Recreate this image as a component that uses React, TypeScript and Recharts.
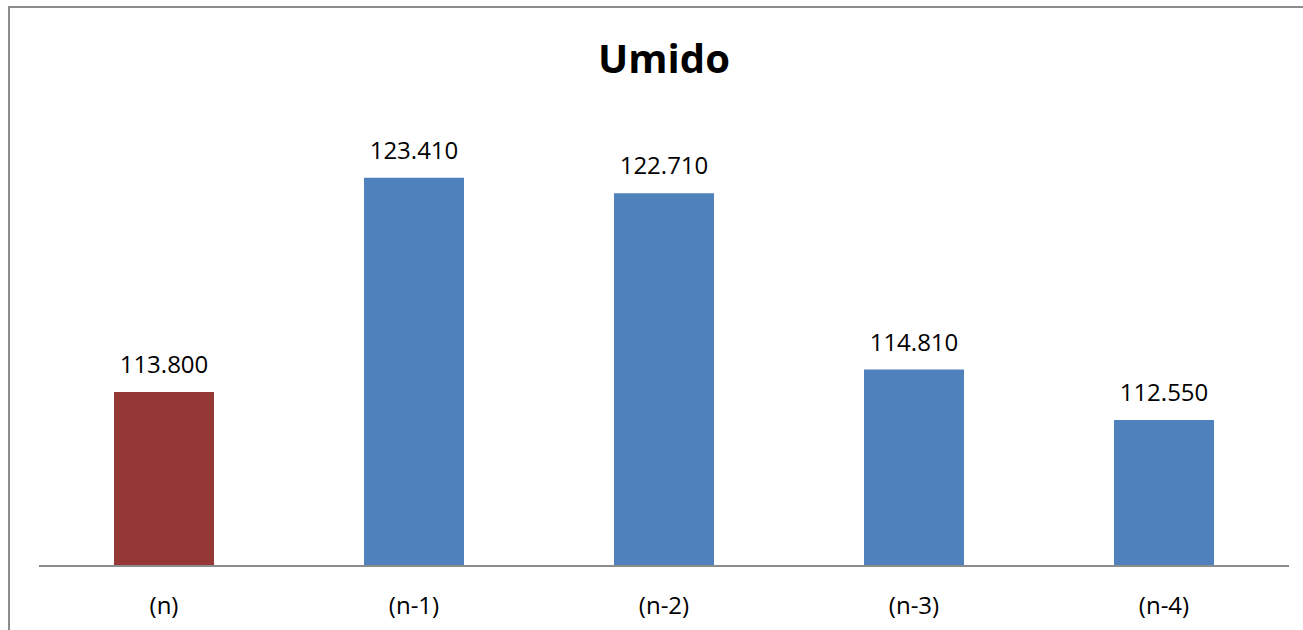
import { BarChart, Bar, XAxis, YAxis, Cell, LabelList } from "recharts";

const categories = ["(n)", "(n-1)", "(n-2)", "(n-3)", "(n-4)"];
const values = [113800, 123410, 122710, 114810, 112550];
const barColors = ["#953735", "#4F81BD", "#4F81BD", "#4F81BD", "#4F81BD"];
const yDomain = [106000, 126000];

const data = categories.map((name, i) => ({ name, value: values[i] }));

const FONT = "'Open Sans', sans-serif";

const fmt = (v: number) => String(v).replace(/\B(?=(\d{3})+(?!\d))/g, ".");

function ValueLabel(props: any) {
  const { x, y, width, value } = props;
  return (
    <text x={x + width / 2} y={y - 19} textAnchor="middle" fontSize={24} fontFamily={FONT} fill="#000">
      {fmt(value)}
    </text>
  );
}

function CategoryTick(props: any) {
  const { x, y, payload } = props;
  return (
    <text x={x} y={y + 48} textAnchor="middle" fontSize={24} fontFamily={FONT} fill="#000">
      {payload.value}
    </text>
  );
}

export default function App() {
  return (
    <div style={{ position: "fixed", left: 0, top: 0, width: 1303, height: 630, overflow: "hidden", background: "#fff" }}>
      <div
        style={{
          position: "absolute",
          left: 8,
          top: 6,
          width: 1320,
          height: 700,
          border: "2px solid #8c8c8c",
          boxSizing: "border-box",
        }}
      >
        <BarChart width={1292} height={640} data={data} margin={{ top: 112, right: 13, bottom: 22, left: 29 }}>
          <XAxis
            dataKey="name"
            height={60}
            tickLine={false}
            tickSize={0}
            tickMargin={0}
            axisLine={{ stroke: "#8c8c8c", strokeWidth: 2 }}
            tick={<CategoryTick />}
            interval={0}
          />
          <YAxis hide domain={yDomain} allowDataOverflow />
          <Bar dataKey="value" barSize={100} isAnimationActive={false}>
            {data.map((d, i) => (
              <Cell key={d.name} fill={barColors[i]} />
            ))}
            <LabelList dataKey="value" content={<ValueLabel />} />
          </Bar>
        </BarChart>
      </div>
      <svg width={1303} height={100} style={{ position: "absolute", left: 0, top: 0 }}>
        <text x={664} y={73} textAnchor="middle" fontSize={40} fontWeight="bold" fontFamily={FONT} fill="#000">
          Umido
        </text>
      </svg>
    </div>
  );
}
